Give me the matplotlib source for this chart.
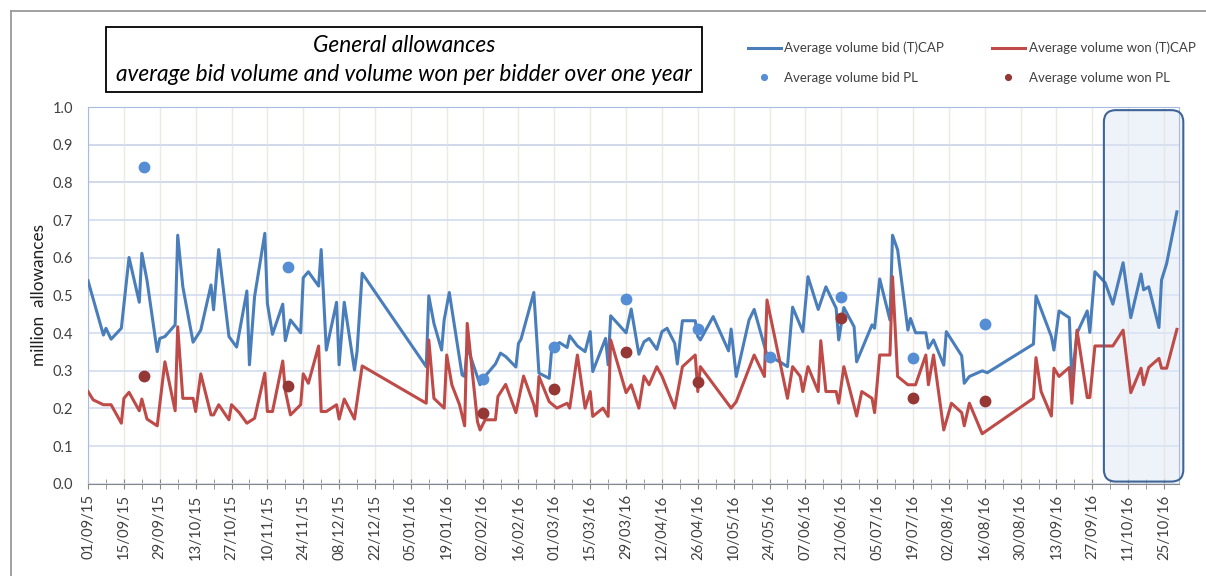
import pandas as pd
import numpy as np
import matplotlib
matplotlib.use('Agg')
import matplotlib.pyplot as plt
import matplotlib.dates as mdates
from matplotlib.patches import Rectangle, FancyBboxPatch
from matplotlib.lines import Line2D
import matplotlib.transforms as mtransforms

plt.rcParams['font.family'] = ['Lato', 'DejaVu Sans']

# days counted from 01/09/15
start = pd.Timestamp('2015-09-01')

bid_day = [0, 6, 7, 9, 13, 16, 20, 21, 23, 27, 28, 30, 34, 35, 37, 41, 44, 48, 49, 51,
           55, 58, 62, 63, 65, 69, 70, 72, 76, 77, 79, 83, 84, 86, 90, 91, 93, 97, 98, 100,
           104, 105, 107, 132, 133, 135, 138, 139, 141, 146, 147, 148, 153, 154, 159, 161, 163, 167, 168, 169,
           174, 176, 180, 181, 184, 187, 188, 191, 194, 196, 197, 202, 203, 204, 210, 212, 215, 217, 219, 222,
           224, 226, 229, 230, 232, 237, 238, 239, 244, 250, 251, 253, 258, 260, 265, 270, 273, 275, 279, 281,
           285, 288, 292, 293, 295, 299, 300, 306, 307, 309, 313, 314, 316, 320, 321, 323, 327, 328, 330, 334,
           335, 341, 342, 344, 349, 351, 369, 370, 376, 377, 379, 383, 384, 386, 390, 391, 393, 397, 400, 404,
           407, 411, 412, 414, 418, 419, 421, 425]
bid_vol = [0.539, 0.395, 0.413, 0.384, 0.413, 0.601, 0.482, 0.612, 0.541, 0.351, 0.386, 0.391, 0.422, 0.660, 0.523, 0.376, 0.408, 0.528, 0.462, 0.622,
           0.391, 0.363, 0.512, 0.316, 0.497, 0.665, 0.479, 0.397, 0.477, 0.380, 0.435, 0.401, 0.547, 0.563, 0.525, 0.622, 0.355, 0.482, 0.316, 0.482,
           0.302, 0.351, 0.559, 0.311, 0.499, 0.426, 0.355, 0.435, 0.508, 0.289, 0.285, 0.364, 0.263, 0.278, 0.318, 0.347, 0.338, 0.310, 0.373, 0.384,
           0.508, 0.294, 0.280, 0.360, 0.375, 0.362, 0.393, 0.366, 0.351, 0.404, 0.298, 0.386, 0.316, 0.446, 0.401, 0.464, 0.344, 0.377, 0.386, 0.357,
           0.404, 0.413, 0.373, 0.318, 0.433, 0.433, 0.391, 0.382, 0.444, 0.353, 0.411, 0.285, 0.435, 0.463, 0.342, 0.324, 0.311, 0.469, 0.404, 0.550,
           0.463, 0.523, 0.466, 0.382, 0.468, 0.417, 0.324, 0.422, 0.413, 0.544, 0.435, 0.660, 0.621, 0.408, 0.439, 0.401, 0.401, 0.360, 0.382, 0.315,
           0.404, 0.340, 0.267, 0.285, 0.300, 0.295, 0.371, 0.499, 0.391, 0.355, 0.459, 0.441, 0.276, 0.400, 0.459, 0.402, 0.563, 0.534, 0.477, 0.587,
           0.441, 0.557, 0.515, 0.523, 0.415, 0.541, 0.585, 0.722]

won_day = [0, 2, 6, 9, 13, 14, 16, 20, 21, 23, 27, 30, 34, 35, 37, 41, 42, 44, 48, 49,
           51, 55, 56, 59, 62, 65, 69, 70, 72, 76, 77, 79, 83, 84, 86, 90, 91, 93, 97, 98,
           100, 104, 107, 132, 133, 135, 139, 140, 142, 145, 147, 148, 152, 153, 155, 159, 160, 163, 167, 170,
           174, 175, 176, 180, 183, 187, 188, 191, 194, 196, 197, 201, 203, 204, 210, 212, 215, 217, 219, 222,
           224, 229, 232, 237, 238, 239, 251, 253, 260, 264, 265, 273, 275, 278, 279, 281, 285, 286, 288, 292,
           293, 295, 300, 302, 306, 307, 309, 313, 314, 316, 320, 323, 327, 328, 330, 334, 337, 341, 342, 344,
           349, 369, 370, 372, 376, 377, 379, 383, 384, 386, 390, 391, 393, 400, 404, 407, 411, 412, 414, 418,
           419, 421, 425]
won_vol = [0.245, 0.223, 0.210, 0.210, 0.161, 0.227, 0.243, 0.194, 0.225, 0.172, 0.154, 0.324, 0.194, 0.417, 0.227, 0.227, 0.192, 0.292, 0.183, 0.183,
           0.210, 0.170, 0.210, 0.189, 0.161, 0.174, 0.294, 0.192, 0.192, 0.326, 0.247, 0.183, 0.210, 0.292, 0.267, 0.366, 0.192, 0.192, 0.210, 0.172,
           0.225, 0.172, 0.313, 0.214, 0.382, 0.227, 0.201, 0.342, 0.263, 0.210, 0.154, 0.426, 0.165, 0.143, 0.170, 0.170, 0.232, 0.264, 0.189, 0.286,
           0.210, 0.180, 0.285, 0.218, 0.201, 0.214, 0.201, 0.342, 0.201, 0.245, 0.179, 0.201, 0.179, 0.382, 0.242, 0.263, 0.201, 0.286, 0.263, 0.311,
           0.286, 0.201, 0.311, 0.342, 0.245, 0.311, 0.201, 0.218, 0.342, 0.285, 0.488, 0.227, 0.311, 0.285, 0.245, 0.311, 0.245, 0.380, 0.245, 0.245,
           0.214, 0.311, 0.180, 0.245, 0.227, 0.189, 0.342, 0.342, 0.550, 0.285, 0.263, 0.263, 0.342, 0.263, 0.342, 0.143, 0.214, 0.189, 0.154, 0.214,
           0.133, 0.227, 0.335, 0.245, 0.180, 0.307, 0.285, 0.309, 0.214, 0.408, 0.229, 0.229, 0.366, 0.366, 0.408, 0.242, 0.307, 0.263, 0.309, 0.333,
           0.307, 0.307, 0.410]

# PL auctions
pl_day = [22, 78, 154, 182, 210, 238, 266, 294, 322, 350]
pl_bid = [0.842, 0.575, 0.278, 0.362, 0.490, 0.411, 0.338, 0.495, 0.333, 0.424]
pl_won = [0.286, 0.261, 0.187, 0.252, 0.351, 0.270, np.nan, 0.439, 0.227, 0.220]

bid_x = start + pd.to_timedelta(bid_day, unit='D')
won_x = start + pd.to_timedelta(won_day, unit='D')
pl_x = start + pd.to_timedelta(pl_day, unit='D')

fig = plt.figure(figsize=(12.06, 5.76), dpi=100)
ax = fig.add_axes([0.073, 0.160, 0.905, 0.654])

l1, = ax.plot(bid_x, bid_vol, color='#4A7EBB', lw=2.2, label='Average volume bid (T)CAP', zorder=3)
l2, = ax.plot(won_x, won_vol, color='#BE4B48', lw=2.2, label='Average volume won (T)CAP', zorder=3)
d1, = ax.plot(pl_x, pl_bid, 'o', color='#558ED5', ms=7.5, label='Average volume bid PL', zorder=4)
d2, = ax.plot(pl_x, pl_won, 'o', color='#953735', ms=7.5, label='Average volume won PL', zorder=4)

ax.set_ylim(0, 1.0)
ax.set_xlim(pd.Timestamp('2015-09-01'), pd.Timestamp('2016-10-31'))
ax.set_yticks(np.arange(0, 1.01, 0.1))
ax.yaxis.set_major_formatter(plt.FormatStrFormatter('%.1f'))
ax.set_xticks(pd.date_range('2015-09-01', '2016-10-31', freq='14D'))
ax.set_xticks(pd.date_range('2015-09-01', '2016-10-31', freq='7D'), minor=True)
ax.xaxis.set_major_formatter(mdates.DateFormatter('%d/%m/%y'))
plt.setp(ax.get_xticklabels(), rotation=90)

ax.tick_params(axis='y', length=0, pad=11, labelsize=10.5, colors='#404040')
ax.tick_params(axis='x', which='both', direction='inout', length=7, color='#888888',
               labelsize=10.7, labelcolor='#404040', pad=4)

ax.grid(axis='y', color='#d3ddf0', lw=1.2, zorder=0)
ax.grid(axis='x', color='#ebe9e0', lw=1.0, zorder=0)
ax.axhline(0.8, color='#c4c4c8', lw=1.3, zorder=0.5)
ax.axhline(0.9, color='#c4c4c8', lw=1.3, zorder=0.5)
ax.set_axisbelow(True)
for s in ['top', 'right', 'left']:
    ax.spines[s].set_color('#a8bce2')
ax.spines['bottom'].set_color('#888888')

ax.set_ylabel('million  allowances', fontsize=12.4, color='#202020', labelpad=4)

# highlighted period
trans = mtransforms.blended_transform_factory(ax.transData, ax.transAxes)
x0 = mdates.date2num(pd.Timestamp('2016-10-01'))
x1 = mdates.date2num(pd.Timestamp('2016-11-01'))
box = FancyBboxPatch((x0 + 0.5, 0.006), x1 - x0, 0.986,
                     boxstyle='round,pad=0,rounding_size=4.7', mutation_aspect=0.0068,
                     transform=trans, facecolor='#dfe8f4', alpha=0.5,
                     edgecolor='none', zorder=1, clip_on=False)
ax.add_patch(box)
box_edge = FancyBboxPatch((x0 + 0.5, 0.006), x1 - x0, 0.986,
                          boxstyle='round,pad=0,rounding_size=4.7', mutation_aspect=0.0068,
                          transform=trans, facecolor='none',
                          edgecolor='#3f6497', lw=1.5, zorder=5, clip_on=False)
ax.add_patch(box_edge)

# title box
fig.add_artist(Rectangle((0.0879, 0.840), 0.494, 0.113, transform=fig.transFigure,
                         facecolor='white', edgecolor='black', lw=1.3))
fig.text(0.335, 0.921, 'General allowances', ha='center', va='center',
         fontsize=16.3, style='italic')
fig.text(0.335, 0.870, 'average bid volume and volume won per bidder over one year',
         ha='center', va='center', fontsize=16.3, style='italic')

# outer chart frame
fig.add_artist(Line2D([11 / 1206, 11 / 1206], [0, 1 - 11 / 576], transform=fig.transFigure, color='#9a9a9a', lw=1.3))
fig.add_artist(Line2D([11 / 1206, 1], [1 - 11 / 576, 1 - 11 / 576], transform=fig.transFigure, color='#9a9a9a', lw=1.3))

fig.legend(handles=[l1, d1, l2, d2], loc='upper left', bbox_to_anchor=(0.610, 0.948),
           ncol=2, frameon=False, fontsize=9.5, handlelength=2.5, handletextpad=0.3,
           columnspacing=3.6, labelspacing=1.3, markerscale=0.55, labelcolor='#404040')

plt.savefig('out.png', dpi=100)
